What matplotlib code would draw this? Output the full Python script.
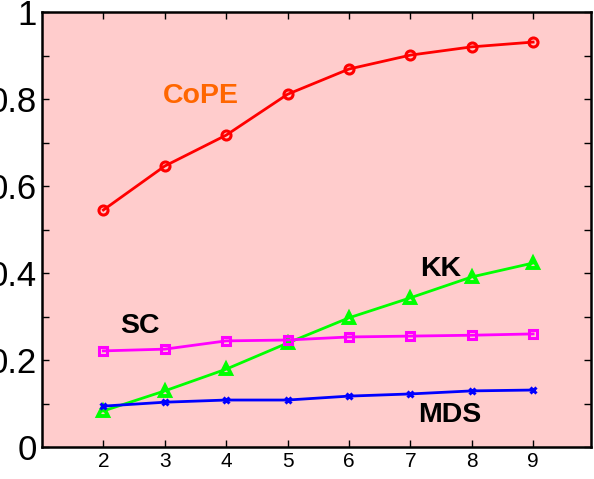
import numpy as np
import matplotlib
matplotlib.use("Agg")
import matplotlib.pyplot as plt

plt.rcParams['font.family'] = ['Liberation Sans', 'DejaVu Sans']

# Data
x = [2, 3, 4, 5, 6, 7, 8, 9]
cope = [0.545, 0.646, 0.717, 0.811, 0.869, 0.901, 0.920, 0.931]
kk = [0.083, 0.129, 0.179, 0.239, 0.297, 0.343, 0.391, 0.423]
sc = [0.221, 0.225, 0.244, 0.246, 0.253, 0.255, 0.257, 0.260]
mds = [0.094, 0.103, 0.108, 0.108, 0.117, 0.122, 0.129, 0.131]

yticks = [0, 0.1, 0.2, 0.3, 0.4, 0.5, 0.6, 0.7, 0.8, 0.9, 1.0]
ylabels = ['0', '', '0.2', '', '0.4', '', '0.6', '', '0.8', '', '1']

fig = plt.figure(figsize=(5.94, 4.79), dpi=100)
ax = fig.add_axes([0.0707, 0.0668, 0.925, 0.908])
ax.set_facecolor('#FFCCCC')

ax.plot(x, cope, color='#FF0000', lw=2, marker='o', ms=6.5, mfc='none', mew=2.2)
ax.plot(x, kk, color='#00FF00', lw=2, marker='^', ms=7.5, mfc='none', mew=2.8)
ax.plot(x, sc, color='#FF00FF', lw=2, marker='s', ms=5.5, mfc='none', mew=2.2)
ax.plot(x, mds, color='#0000FF', lw=2, marker='x', ms=5, mew=2.2)

ax.text(3.58, 0.807, 'CoPE', color='#FF6600', fontsize=20.5, fontweight='bold',
        ha='center', va='center')
ax.text(7.49, 0.41, 'KK', color='black', fontsize=20.5, fontweight='bold',
        ha='center', va='center')
ax.text(2.6, 0.278, 'SC', color='black', fontsize=20.5, fontweight='bold',
        ha='center', va='center')
ax.text(7.65, 0.074, 'MDS', color='black', fontsize=20.5, fontweight='bold',
        ha='center', va='center')

ax.set_xlim(1, 9.95)
ax.set_ylim(0, 1)
ax.set_xticks(x)
ax.set_yticks(yticks)
ax.set_yticklabels(ylabels)
ax.tick_params(axis='x', labelsize=15, direction='in', top=True, length=5, width=1)
ax.tick_params(axis='y', labelsize=25, direction='in', right=True, length=5, width=1)
for s in ax.spines.values():
    s.set_linewidth(1.8)

fig.savefig('out.png', dpi=100)
